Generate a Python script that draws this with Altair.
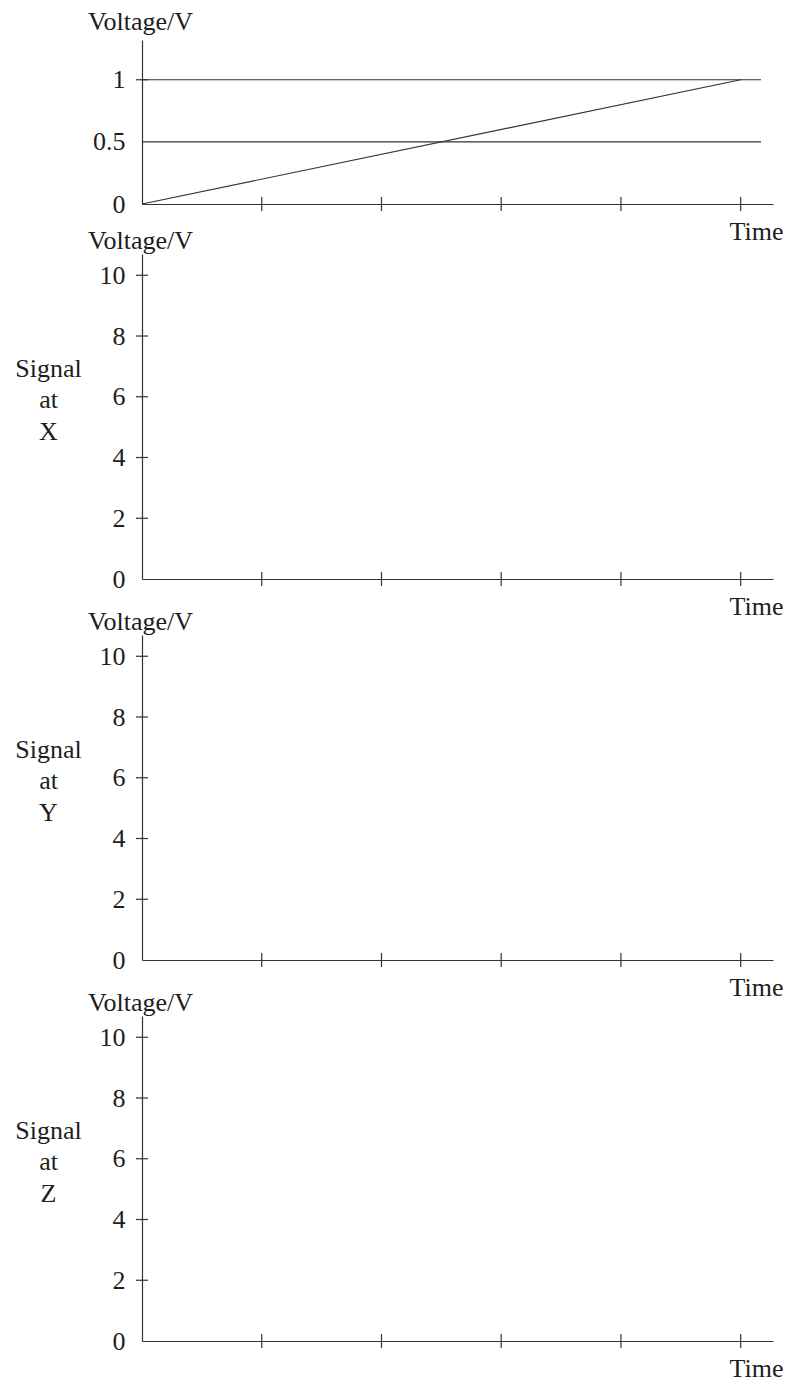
import altair as alt
import pandas as pd

# ---- data ----
tick_times = [1, 2, 3, 4, 5]
ramp_time = [0, 5]
ramp_voltage = [0, 1]
ref_levels = [1, 0.5]
ref_start = [0, 0]
ref_end = [5.17, 5.17]
top_label_values = [0, 0.5, 1]
top_tick_values = [1]
sig_label_values = [0, 2, 4, 6, 8, 10]
sig_tick_values = [2, 4, 6, 8, 10]
signal_names = ["X", "Y", "Z"]

FONT = "Liberation Serif"
INK = "#1e1e1e"
LINE = "#333333"
FS = 26
W = 631
X_MAX = 5.27

xscale = alt.Scale(domain=[0, X_MAX], nice=False, zero=False)


def x_axis():
    return alt.Axis(values=[], ticks=False, labels=False, domain=True,
                    domainColor=LINE, domainWidth=1.2, grid=False,
                    title="Time", titleFont=FONT, titleFontSize=FS,
                    titleFontWeight="normal", titleColor=INK,
                    titleAngle=0, titleAlign="center", titleBaseline="alphabetic",
                    titleX=614, titleY=35)


def y_axis(values, title_y):
    return alt.Axis(values=values, labelExpr="'' + datum.value",
                    ticks=False, tickSize=0,
                    labels=True, labelFont=FONT, labelFontSize=FS,
                    labelColor=INK, labelPadding=17, labelBaseline="middle",
                    domain=True, domainColor=LINE, domainWidth=1.2, grid=False,
                    title="Voltage/V", titleFont=FONT, titleFontSize=FS,
                    titleFontWeight="normal", titleColor=INK, titleAngle=0,
                    titleAlign="center", titleBaseline="alphabetic",
                    titleX=-2, titleY=title_y)


def signal_axis(name):
    return alt.Axis(orient="left", values=[], ticks=False, labels=False,
                    domain=False, grid=False,
                    title=["Signal", "at", name], titleFont=FONT,
                    titleFontSize=FS, titleFontWeight="normal", titleColor=INK,
                    titleAngle=0, titleAlign="center", titleBaseline="alphabetic",
                    titleLineHeight=31.5, titleX=-94, titleY=122)


def panel(y_max, height, label_values, tick_values, title_y, extra_layers, name=None):
    yscale = alt.Scale(domain=[0, y_max], nice=False, zero=False)
    main_axis = y_axis(label_values, title_y)
    xt = pd.DataFrame({"t": tick_times})
    yt = pd.DataFrame({"v": tick_values})
    x_ticks = alt.Chart(xt).mark_tick(orient="vertical", size=14, thickness=1.2,
                                       color=LINE, opacity=1).encode(
        x=alt.X("t:Q", scale=xscale, axis=x_axis()),
        y=alt.Y(datum=0, scale=yscale, axis=main_axis),
    )
    y_enc = alt.Y("v:Q", scale=yscale,
                  axis=signal_axis(name) if name is not None else main_axis)
    y_ticks = alt.Chart(yt).mark_tick(orient="horizontal", size=12, thickness=1.2,
                                       color=LINE, opacity=1).encode(
        x=alt.X(datum=0, scale=xscale, axis=x_axis()),
        y=y_enc,
    )
    layers = [x_ticks, y_ticks] + extra_layers(yscale, main_axis)
    ch = alt.layer(*layers).properties(width=W, height=height)
    if name is not None:
        ch = ch.resolve_scale(y="independent").resolve_axis(y="independent")
    return ch


def top_layers(yscale, main_axis):
    refs = pd.DataFrame({"level": ref_levels, "x0": ref_start, "x1": ref_end})
    ramp = pd.DataFrame({"time": ramp_time, "voltage": ramp_voltage})
    rules = alt.Chart(refs).mark_rule(color=LINE, strokeWidth=1.2).encode(
        x=alt.X("x0:Q", scale=xscale, axis=x_axis()), x2="x1:Q",
        y=alt.Y("level:Q", scale=yscale, axis=main_axis),
    )
    line = alt.Chart(ramp).mark_line(color=LINE, strokeWidth=1.2).encode(
        x=alt.X("time:Q", scale=xscale, axis=x_axis()),
        y=alt.Y("voltage:Q", scale=yscale, axis=main_axis),
    )
    return [rules, line]


def no_layers(yscale, main_axis):
    return []


top = panel(1.32, 164, top_label_values, top_tick_values, -11, top_layers)

signal_panels = [panel(10.7, 325, sig_label_values, sig_tick_values, -6,
                       no_layers, name=n) for n in signal_names]

lower = alt.vconcat(*signal_panels, spacing=56, bounds="flush")
chart = alt.vconcat(top, lower, spacing=50, bounds="flush").properties(
    padding={"left": 6, "top": 0, "right": 0, "bottom": 0}
).configure(font=FONT, view=alt.ViewConfig(stroke=None))

chart.save("out.html", embed_options={"renderer": "svg", "actions": False})
